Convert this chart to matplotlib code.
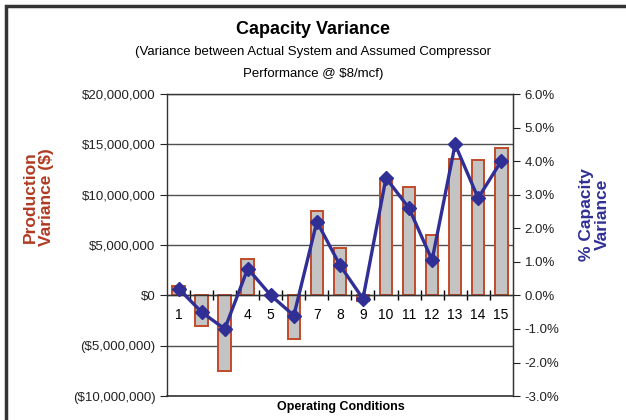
import matplotlib
matplotlib.use("Agg")
import matplotlib.pyplot as plt
from matplotlib.patches import Rectangle
from matplotlib.ticker import FuncFormatter, FixedLocator

plt.rcParams["font.family"] = ["Liberation Sans", "DejaVu Sans"]

conditions = list(range(1, 16))
production_variance = [0.9e6, -3.0e6, -7.5e6, 3.6e6, 0.0, -4.3e6, 8.4e6, 4.7e6,
                       -0.6e6, 11.6e6, 10.8e6, 6.0e6, 13.6e6, 13.5e6, 14.6e6]
capacity_variance = [0.2, -0.5, -1.0, 0.8, 0.0, -0.6, 2.2, 0.9,
                     -0.1, 3.5, 2.6, 1.05, 4.5, 2.9, 4.0]

RED = "#b03a22"
BAR_EDGE = "#c04a28"
BLUE = "#2f2f95"


def money(v, _pos):
    if v < 0:
        return f"(${abs(v):,.0f})"
    return f"${v:,.0f}"


def main():
    fig = plt.figure(figsize=(6.26, 4.2), dpi=100)
    ax = fig.add_axes([0.267, 0.057, 0.552, 0.719])

    ax.bar(conditions, production_variance, width=0.55, color="#c4c4c4",
           edgecolor=BAR_EDGE, linewidth=1.4, zorder=2)
    ax.set_xlim(0.5, 15.5)
    ax.set_ylim(-10e6, 20e6)
    ax.set_yticks([-10e6, -5e6, 0, 5e6, 10e6, 15e6, 20e6])
    ax.yaxis.set_major_formatter(FuncFormatter(money))
    ax.grid(axis="y", color="#505050", linewidth=1.0, zorder=0)
    ax.tick_params(axis="y", direction="out", length=5, labelsize=9.5, colors="#222222")

    # category axis sits on the zero line
    ax.spines["bottom"].set_position(("data", 0))
    ax.xaxis.set_major_locator(FixedLocator(conditions))
    ax.xaxis.set_minor_locator(FixedLocator([c + 0.5 for c in conditions[:-1]]))
    ax.tick_params(axis="x", which="major", length=0, pad=9, labelsize=10)
    ax.tick_params(axis="x", which="minor", length=7, direction="inout", width=1)
    ax.axhline(-10e6, color="#333333", linewidth=1.2, clip_on=False)
    for s in ["left", "top", "right", "bottom"]:
        ax.spines[s].set_color("#333333")
        ax.spines[s].set_linewidth(1.0)

    ax2 = ax.twinx()
    ax2.plot(conditions, capacity_variance, color=BLUE, linewidth=2.4, marker="D",
             markersize=7.5, zorder=3)
    ax2.set_ylim(-3, 6)
    ax2.set_yticks(range(-3, 7))
    ax2.yaxis.set_major_formatter(FuncFormatter(lambda v, p: f"{v:.1f}%"))
    ax2.tick_params(axis="y", direction="out", length=5, labelsize=9.5, colors="#222222")
    ax2.spines["right"].set_color("#333333")
    for s in ["left", "top", "bottom"]:
        ax2.spines[s].set_visible(False)

    fig.text(0.5, 0.93, "Capacity Variance", ha="center", va="center",
             fontsize=13, fontweight="bold")
    fig.text(0.5, 0.877, "(Variance between Actual System and Assumed Compressor",
             ha="center", va="center", fontsize=9.5)
    fig.text(0.5, 0.824, "Performance @ $8/mcf)", ha="center", va="center", fontsize=9.5)
    fig.text(0.062, 0.53, "Production\nVariance ($)", rotation=90, ha="center", va="center",
             fontsize=12.5, fontweight="bold", color=RED, linespacing=1.1)
    fig.text(0.95, 0.49, "% Capacity\nVariance", rotation=90, ha="center", va="center",
             fontsize=12.5, fontweight="bold", color=BLUE, linespacing=1.1)
    fig.text(0.545, 0.03, "Operating Conditions", ha="center", va="center",
             fontsize=9, fontweight="bold")

    fig.patches.append(Rectangle((6 / 626, -0.1), 1.2, 1.1 - 6 / 420, transform=fig.transFigure,
                                 fill=False, edgecolor="#333333", linewidth=2.5))

    fig.savefig("out.png", dpi=100)
    plt.close(fig)


if __name__ == "__main__":
    main()
